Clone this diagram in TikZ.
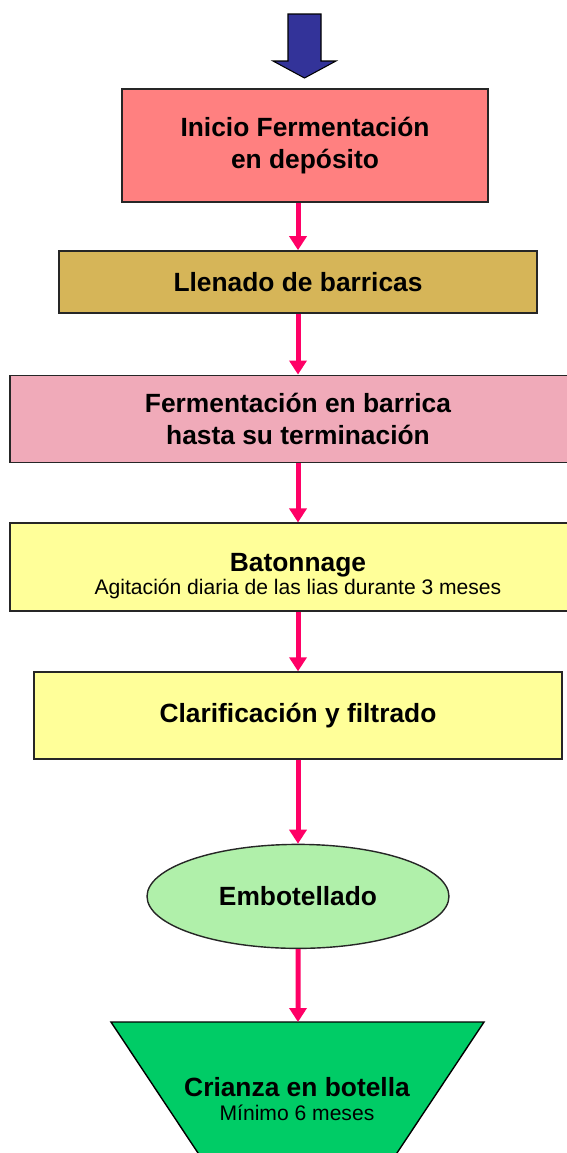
\documentclass[tikz,border=0pt]{standalone}
\usepackage{fontspec}
\setmainfont{Liberation Sans}
\usetikzlibrary{shapes.geometric, arrows.meta, positioning}
\definecolor{salmonred}{RGB}{255,128,128}
\definecolor{barrelgold}{RGB}{214,181,88}
\definecolor{rosepink}{RGB}{240,170,185}
\definecolor{paleyellow}{RGB}{255,255,153}
\definecolor{palegreen}{RGB}{176,240,170}
\definecolor{bottlegreen}{RGB}{0,204,102}
\definecolor{navyblue}{RGB}{51,51,153}
\definecolor{flowpink}{RGB}{255,0,102}

\begin{document}
\begin{tikzpicture}[
        x=0.02cm, y=-0.02cm,
        stage/.style={rectangle, draw=black!85, line width=0.8pt, align=center, font=\fontsize{15}{18}\selectfont\bfseries},
        flow/.style={-{Triangle[length=2.8mm, width=3.4mm]}, line width=0.1cm, flowpink}
    ]
        \useasboundingbox (0,0) rectangle (567,1153);
        \clip (0,0) rectangle (567,1153);

        % entry arrow
        \draw[fill=navyblue, draw=black, line width=0.6pt] (288,14) -- (321,14) -- (321,61) -- (336,61) -- (304.5,78) -- (273,61) -- (288,61) -- cycle;

        \node[stage, fill=salmonred, minimum width=7.32cm, minimum height=2.26cm] (inicio) at (305,145.5) {Inicio Fermentación\\en depósito};
        \node[stage, fill=barrelgold, minimum width=9.56cm, minimum height=1.24cm, below=0.95cm of inicio, xshift=-0.14cm] (llenado) {Llenado de barricas};
        \node[stage, fill=rosepink, minimum width=11.52cm, minimum height=1.74cm, below=1.22cm of llenado] (fermentacion) {Fermentación en barrica\\hasta su terminación};
        \node[stage, fill=paleyellow, minimum width=11.52cm, minimum height=1.76cm, below=1.19cm of fermentacion] (batonnage) {\rule{0pt}{21pt}Batonnage\\[-5pt]{\fontsize{12}{13}\selectfont\mdseries Agitación diaria de las lias durante 3 meses}};
        \node[stage, fill=paleyellow, minimum width=10.56cm, minimum height=1.74cm, below=1.19cm of batonnage] (clarificacion) {Clarificación y filtrado};
        \node[stage, ellipse, fill=palegreen, minimum width=6.04cm, minimum height=2.08cm, below=1.68cm of clarificacion] (embotellado) {Embotellado};

        % bottle ageing funnel
        \coordinate (crianzatop) at (298,1022);
        \draw[fill=bottlegreen, draw=black, line width=0.8pt] (111,1022) -- (484,1022) -- (387,1168) -- (208,1168) -- cycle;
        \node[align=center, font=\fontsize{15}{18}\selectfont\bfseries] (crianza) at (297,1099) {Crianza en botella\\[-4.5pt]{\fontsize{12}{13}\selectfont\mdseries Mínimo 6 meses}};

        \draw[flow] (inicio.south -| llenado.north) -- (llenado.north);
        \draw[flow] (llenado.south) -- (fermentacion.north);
        \draw[flow] (fermentacion.south) -- (batonnage.north);
        \draw[flow] (batonnage.south) -- (clarificacion.north);
        \draw[flow] (clarificacion.south) -- (embotellado.north);
        \draw[flow] (embotellado.south) -- (crianzatop);
    \end{tikzpicture}
\end{document}
